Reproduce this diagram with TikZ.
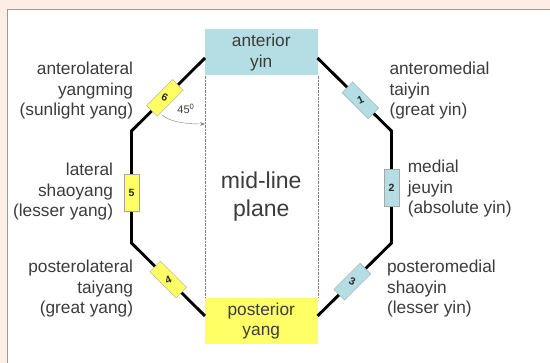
\documentclass[tikz,border=0pt]{standalone}
\usepackage{fontspec}
\setmainfont{Liberation Sans}
\usepackage{tikz}
\usetikzlibrary{arrows.meta,calc}
\definecolor{peach}{RGB}{253,237,226}
\definecolor{yinblue}{RGB}{180,221,228}
\definecolor{yangyellow}{RGB}{255,255,102}
\definecolor{textgray}{RGB}{60,60,60}

\tikzset{
  sidetext/.style={font=\fontsize{17.3}{20.5}\selectfont, text=textgray, inner sep=0pt},
  regionbox/.style={minimum width=112.5pt, minimum height=46pt, inner sep=0pt, align=center,
    font=\fontsize{17.3}{20.5}\selectfont, text=textgray},
  numbox/.style={draw=gray!70, thin, minimum width=15pt, minimum height=37pt, inner sep=0pt,
    font=\fontsize{10.5}{12}\selectfont\bfseries, text=black!85},
  octline/.style={line width=2.9pt, black},
}
% chiffre un peu redresse dans les cases obliques
\newcommand{\tiltnum}[2]{\rotatebox{#1}{#2}}

\begin{document}
\begin{tikzpicture}[x=1pt, y=-1pt, >=Stealth]
    \useasboundingbox (0,0) rectangle (550,363);

    % Cadre
    \fill[peach] (0,0) rectangle (550,363);
    \fill[white] (7.4,9) rectangle (550,363);
    \draw[gray!80, thin] (7.4,363) -- (7.4,9) -- (550,9);

    % Anterior / posterior
    \node[regionbox, fill=yinblue] (ant) at (261.25,52.5) {anterior\\yin};
    \node[regionbox, fill=yangyellow] (post) at (261.25,321) {posterior\\yang};
    \draw[gray, densely dotted] (ant.south west) -- (post.north west);
    \draw[gray, densely dotted] (ant.south east) -- (post.north east);
    \node[align=center, text=textgray, font=\fontsize{23}{28}\selectfont] (plane) at (261.25,197) {mid-line\\plane};

    % Octogone
    \coordinate (antL) at (205,58);
    \coordinate (latTop) at (131.5,131);
    \coordinate (latBot) at (131.5,243);
    \coordinate (postL) at (205,316);
    \coordinate (antR) at (317.5,58);
    \coordinate (medTop) at (391.5,131);
    \coordinate (medBot) at (391.5,243);
    \coordinate (postR) at (317.5,316);
    \draw[octline] (antL) -- (latTop) -- (latBot) -- (postL);
    \draw[octline] (antR) -- (medTop) -- (medBot) -- (postR);

    % Cases numerotees
    \node[numbox, fill=yinblue, rotate=45] (ch1) at ($(antR)!0.58!(medTop)$) {\tiltnum{-20}{1}};
    \node[numbox, fill=yinblue] (ch2) at ($(medTop)!0.51!(medBot)$) {2};
    \node[numbox, fill=yinblue, rotate=-45] (ch3) at ($(medBot)!0.53!(postR)$) {\tiltnum{20}{3}};
    \node[numbox, fill=yangyellow, rotate=45] (ch4) at ($(latBot)!0.5!(postL)$) {\tiltnum{-20}{4}};
    \node[numbox, fill=yangyellow] (ch5) at ($(latTop)!0.55!(latBot)$) {5};
    \node[numbox, fill=yangyellow, rotate=-45] (ch6) at ($(antL)!0.546!(latTop)$) {\tiltnum{20}{6}};

    % Angle 45
    \coordinate (arcstart) at (162,115);
    \coordinate (arcend) at (205,124);
    \draw[->, gray, thin] (arcstart) .. controls (170,122) and (186,124) .. (arcend);
    \node[text=textgray, font=\fontsize{11}{13}\selectfont] (angle) at (186,109) {45\textsuperscript{0}};

    % Etiquettes gauche
    \node[sidetext, anchor=east, align=right] (antlat) at (133.3,91) {anterolateral\\yangming\\(sunlight yang)};
    \node[sidetext, anchor=east, align=right] (lat) at (113.3,192) {lateral\\shaoyang\\(lesser yang)};
    \node[sidetext, anchor=east, align=right] (postlat) at (133.3,289) {posterolateral\\taiyang\\(great yang)};

    % Etiquettes droite
    \node[sidetext, anchor=west, align=left] (antmed) at (389.3,91) {anteromedial\\taiyin\\(great yin)};
    \node[sidetext, anchor=west, align=left] (med) at (407.6,189) {medial\\jeuyin\\(absolute yin)};
    \node[sidetext, anchor=west, align=left] (postmed) at (386.9,289) {posteromedial\\shaoyin\\(lesser yin)};

\end{tikzpicture}
\end{document}
